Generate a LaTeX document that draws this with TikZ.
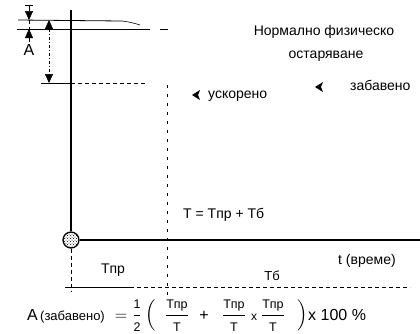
\documentclass[tikz,border=0pt]{standalone}
\usepackage{fontspec}
\setmainfont{Liberation Sans}
\usepackage{amsmath}
\usetikzlibrary{patterns,arrows.meta}
\newcommand{\fsz}[1]{\text{\fontsize{12.5}{13}\selectfont #1}}
\newcommand{\myfr}[2]{\dfrac{\fsz{#1}}{\fsz{#2}}}
\begin{document}
\begin{tikzpicture}[x=1pt,y=-1pt,
  lbl/.style={font=\fontsize{14}{16}\selectfont, inner sep=0pt},
  fml/.style={font=\fontsize{16}{18}\selectfont, inner sep=0pt, anchor=base},
  axisline/.style={line width=1.3pt},
  guide/.style={line width=0.5pt, dash pattern=on 4pt off 3pt},
  sparse/.style={line width=0.6pt, dash pattern=on 3pt off 6pt},
  tip/.style={-{Triangle[width=8pt,length=9pt]}, line width=0.5pt},
  marker/.style={fill=black}]
\useasboundingbox (0,0) rectangle (420,333);
% axes
\node[circle, draw, line width=1.3pt, minimum size=16pt, inner sep=0pt, pattern=crosshatch dots] (o) at (71,240) {};
\coordinate (ytop) at (71,10);
\coordinate (ybot) at (71,292);
\coordinate (xend) at (420,240);
\draw[axisline] (o.north) -- (ytop);
\draw[axisline] (o.east) -- (xend);
\draw[guide] (o.south) -- (ybot);
% top reference lines
\coordinate (l1a) at (18,20);
\coordinate (l1b) at (122,21);
\coordinate (l1c) at (140,25);
\draw[line width=0.8pt] (l1a) -- (l1b);
\draw[line width=0.6pt] (l1b) to[bend left=5] (l1c);
\coordinate (l2a) at (17,29);
\coordinate (l2b) at (150,29);
\coordinate (l2c) at (160,29);
\coordinate (l2d) at (168,29);
\draw[line width=0.8pt] (l2a) -- (l2b);
\draw[line width=0.8pt] (l2c) -- (l2d);
\coordinate (l3a) at (41,83);
\coordinate (l3b) at (71,83);
\coordinate (l3c) at (145,83);
\draw[line width=0.8pt] (l3a) -- (l3b);
\draw[guide] (l3b) -- (l3c);
% dimension A (left)
\coordinate (a1) at (29,5);
\coordinate (a2) at (29,20);
\coordinate (a3) at (29,29);
\coordinate (a4) at (29,42);
\draw[line width=0.8pt] (25,5) -- (33,5);
\draw[tip] (a1) -- (a2);
\draw[tip] (a4) -- (a3);
\draw[guide] (a2) -- (a3);
\node[lbl, font=\fontsize{16}{18}\selectfont] (A) at (29,50) {A};
% dimension right
\coordinate (b1) at (49,20);
\coordinate (b2) at (49,83);
\draw[line width=0.5pt, dash pattern=on 3pt off 2pt on 1pt off 2pt, {Triangle[width=8pt,length=9pt]}-{Triangle[width=8pt,length=9pt]}] (b1) -- (b2);
% middle dashed vertical
\coordinate (m1) at (167,85);
\coordinate (m2) at (167,300);
\draw[sparse] (m1) -- (m2);
% labels
\node[lbl, anchor=base] (norm1) at (324,35) {Нормално физическо};
\node[lbl, anchor=base] (norm2) at (326,58) {остаряване};
\node[lbl, anchor=base west] (zab) at (350,90) {забавено};
\fill[marker] (315,87) -- (323,82) -- (321,87) -- (323,92) -- cycle;
\node[lbl, anchor=base west] (usk) at (208,98) {ускорено};
\fill[marker] (192,95) -- (200,90) -- (198,95) -- (200,100) -- cycle;
\node[lbl, anchor=base west] (teq) at (183,218) {T = Tпр + Тб};
\node[lbl, anchor=base west] (time) at (338,264) {t (време)};
\node[lbl, anchor=base] (tpr) at (113,273) {Tпр};
\node[lbl, anchor=base, font=\fontsize{13}{15}\selectfont] (tb) at (272,280) {Тб};
% lower dashed line
\coordinate (d1) at (65,287);
\coordinate (d2) at (130,287);
\coordinate (d3) at (410,287);
\draw[line width=0.8pt] (d1) -- (d2);
\draw[guide] (d2) -- (d3);
% formula
\node[fml, anchor=base west] (fA) at (27,320) {A};
\node[fml, anchor=base west, font=\fontsize{13}{15}\selectfont] (fz) at (40,320) {(забавено)};
\node[fml] (feq) at (121,320) {$=$};
\node[fml] (fhalf) at (137,320) {$\myfr{1}{2}$};
\node[fml] (flp) at (151,320) {$\left(\rule[-11pt]{0pt}{30pt}\right.$};
\node[fml] (fr1) at (177,320) {$\myfr{Tпр}{T}$};
\node[fml] (fplus) at (204,320) {+};
\node[fml] (fr2) at (234,320) {$\myfr{Tпр}{T}$};
\node[fml, font=\fontsize{12}{14}\selectfont] (fx) at (254,320) {x};
\node[fml] (fr3) at (273,320) {$\myfr{Tпр}{T}$};
\node[fml] (frp) at (302,320) {$\left.\rule[-11pt]{0pt}{30pt}\right)$};
\node[fml, anchor=base west] (fpct) at (308,320) {x 100 \%};
\end{tikzpicture}
\end{document}
